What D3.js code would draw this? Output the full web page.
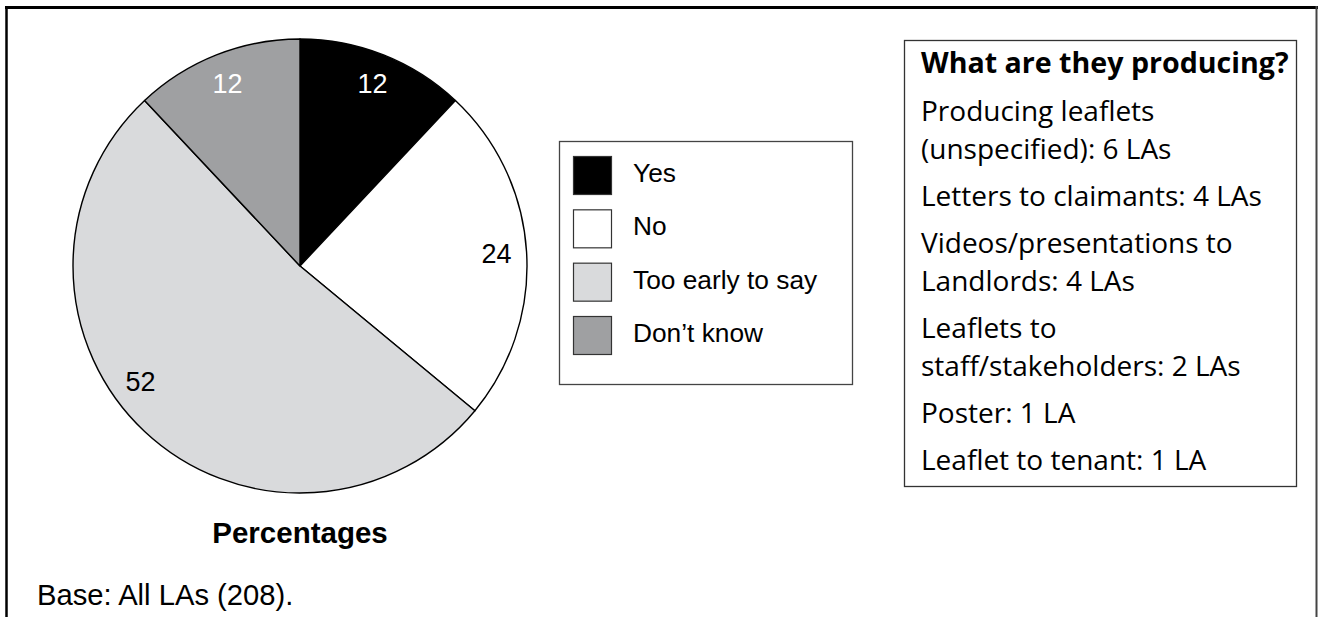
<!DOCTYPE html>
<html><head><meta charset="utf-8">
<script src="https://cdn.jsdelivr.net/npm/d3@7"></script>
<style>body{margin:0;background:#fff;overflow:hidden}</style>
</head><body><svg id="c" width="1319" height="617"></svg>
<script>
const categories = ["Yes", "No", "Too early to say", "Don\u2019t know"];
const values = [12, 24, 52, 12];
const colors = ["#000000", "#ffffff", "#d9dadc", "#9fa0a2"];
const labelColors = ["#ffffff", "#000000", "#000000", "#ffffff"];
const chartTitle = "Percentages";
const baseNote = "Base: All LAs (208).";
const boxTitle = "What are they producing?";
const boxItems = [
  ["Producing leaflets", "(unspecified): 6 LAs"],
  ["Letters to claimants: 4 LAs"],
  ["Videos/presentations to", "Landlords: 4 LAs"],
  ["Leaflets to", "staff/stakeholders: 2 LAs"],
  ["Poster: 1 LA"],
  ["Leaflet to tenant: 1 LA"]
];

const svg = d3.select("#c");
const arial = "'Liberation Sans', Arial, Helvetica, sans-serif";
const myriad = "'Open Sans', 'Noto Sans', sans-serif";

// outer frame (top, left, right)
svg.append("line").attr("x1", 5).attr("x2", 1318).attr("y1", 7.5).attr("y2", 7.5)
  .attr("stroke", "#000").attr("stroke-width", 3);
svg.append("line").attr("x1", 6.5).attr("x2", 6.5).attr("y1", 6).attr("y2", 617)
  .attr("stroke", "#000").attr("stroke-width", 2.5);
svg.append("line").attr("x1", 1316.5).attr("x2", 1316.5).attr("y1", 6).attr("y2", 617)
  .attr("stroke", "#444").attr("stroke-width", 2);

// pie
const cx = 300, cy = 266, R = 227, labelR = 197;
const pie = d3.pie().sort(null).value(d => d);
const arcs = pie(values);
const arc = d3.arc().innerRadius(0).outerRadius(R);
const g = svg.append("g").attr("transform", `translate(${cx},${cy})`);
g.selectAll("path.slice").data(arcs).enter().append("path")
  .attr("class", "slice")
  .attr("d", arc)
  .attr("fill", (d, i) => colors[i])
  .attr("stroke", "#000").attr("stroke-width", 1.4).attr("stroke-linejoin", "round");

g.selectAll("text.lbl").data(arcs).enter().append("text")
  .attr("class", "lbl")
  .each(function (d, i) {
    let a = (d.startAngle + d.endAngle) / 2;
    if (d.endAngle - d.startAngle > Math.PI) a += 0.19; // best-fit shift for large slice
    d3.select(this)
      .attr("x", labelR * Math.sin(a))
      .attr("y", -labelR * Math.cos(a))
      .attr("dy", "0.36em");
  })
  .attr("text-anchor", "middle")
  .attr("font-family", arial).attr("font-size", 27)
  .attr("fill", (d, i) => labelColors[i])
  .text((d, i) => values[i]);

// chart title & base note
svg.append("text").attr("x", cx).attr("y", 543).attr("text-anchor", "middle")
  .attr("font-family", arial).attr("font-weight", "bold").attr("font-size", 29.5)
  .attr("fill", "#000").text(chartTitle);
svg.append("text").attr("x", 37).attr("y", 605)
  .attr("font-family", arial).attr("font-size", 29.2)
  .attr("fill", "#000").text(baseNote);

// legend
const lg = svg.append("g");
lg.append("rect").attr("x", 559.5).attr("y", 141.5).attr("width", 293).attr("height", 243)
  .attr("fill", "#fff").attr("stroke", "#444").attr("stroke-width", 1.3);
const rowY = d3.scalePoint().domain(categories).range([156, 316]);
const rows = lg.selectAll("g.row").data(categories).enter().append("g").attr("class", "row")
  .attr("transform", d => `translate(573,${rowY(d)})`);
rows.append("rect").attr("x", 0.5).attr("y", 0.5).attr("width", 38).attr("height", 38)
  .attr("fill", (d, i) => colors[i]).attr("stroke", "#333").attr("stroke-width", 1.2);
rows.append("text").attr("x", 60).attr("y", 26)
  .attr("font-family", arial).attr("font-size", 26.3).attr("fill", "#000")
  .text(d => d);

// text box on the right
const bx = 904, by = 40, bw = 392, bh = 446;
svg.append("rect").attr("x", bx + 0.5).attr("y", by + 0.5).attr("width", bw).attr("height", bh)
  .attr("fill", "#fff").attr("stroke", "#333").attr("stroke-width", 1.3);
svg.append("text").attr("x", 921).attr("y", 73)
  .attr("font-family", myriad).attr("font-weight", "bold").attr("font-size", 28.6)
  .attr("fill", "#000").text(boxTitle);
let yy = 121;
const lines = [];
boxItems.forEach((item, k) => {
  item.forEach((t, j) => {
    lines.push({ t, y: yy });
    yy += (j === item.length - 1) ? 47 : 38;
  });
});
svg.selectAll("text.item").data(lines).enter().append("text").attr("class", "item")
  .attr("x", 921).attr("y", d => d.y)
  .attr("font-family", myriad).attr("font-size", 28)
  .attr("fill", "#000").text(d => d.t);
</script>
</body></html>
